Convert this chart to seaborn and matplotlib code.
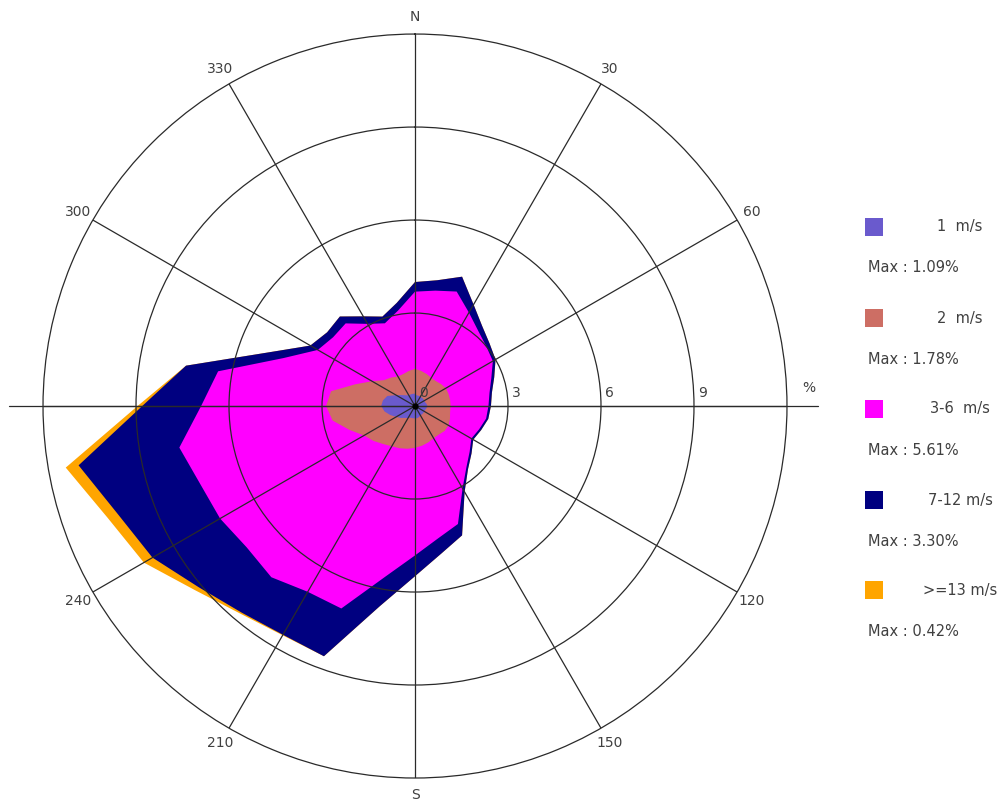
import numpy as np
import matplotlib
matplotlib.use("Agg")
import matplotlib.pyplot as plt
from matplotlib.patches import Rectangle
import seaborn as sns

# Wind directions (degrees, clockwise from north), 10-degree sectors
directions = np.arange(0, 360, 10)

# Frequency (%) of each speed class per direction
speed_1 = [0.40, 0.35, 0.35, 0.35, 0.35, 0.35, 0.35, 0.35, 0.38, 0.40, 0.38, 0.35,
           0.35, 0.35, 0.35, 0.35, 0.38, 0.40, 0.40, 0.40, 0.40, 0.45, 0.50, 0.60,
           0.70, 0.85, 1.00, 1.09, 1.05, 0.95, 0.70, 0.55, 0.45, 0.40, 0.40, 0.40]
speed_2 = [0.80, 0.80, 0.75, 0.70, 0.70, 0.75, 0.80, 0.80, 0.77, 0.75, 0.77, 0.85,
           0.90, 0.90, 0.85, 0.85, 0.87, 0.90, 0.95, 1.00, 1.05, 1.05, 1.10, 1.15,
           1.20, 1.40, 1.70, 1.78, 1.70, 1.10, 0.90, 0.75, 0.75, 0.70, 0.70, 0.75]
speed_3_6 = [2.49, 2.63, 2.83, 2.43, 2.12, 1.90, 1.75, 1.47, 1.29, 1.22, 1.18, 1.00,
             0.85, 1.05, 1.38, 1.87, 2.80, 3.03, 3.47, 4.20, 5.50, 5.42, 5.61, 5.34,
             5.36, 5.12, 5.02, 4.03, 3.70, 2.47, 2.02, 2.15, 2.28, 1.96, 1.74, 1.98]
speed_7_12 = [0.31, 0.34, 0.51, 0.30, 0.20, 0.14, 0.10, 0.10, 0.08, 0.08, 0.07, 0.07,
              0.07, 0.08, 0.08, 0.13, 0.39, 0.51, 0.67, 0.96, 1.64, 1.60, 1.49, 2.01,
              2.52, 2.83, 3.30, 1.90, 1.05, 0.53, 0.28, 0.25, 0.29, 0.28, 0.23, 0.25]
speed_13 = [0.00, 0.00, 0.00, 0.00, 0.00, 0.00, 0.00, 0.00, 0.00, 0.00, 0.00, 0.00,
            0.00, 0.00, 0.00, 0.00, 0.00, 0.00, 0.00, 0.00, 0.00, 0.02, 0.05, 0.15,
            0.32, 0.35, 0.42, 0.15, 0.00, 0.00, 0.00, 0.00, 0.00, 0.00, 0.00, 0.00]

class_names = ["1  m/s", "2  m/s", "3-6  m/s", "7-12 m/s", ">=13 m/s"]
class_colors = ["#6A5ACD", "#CD6E64", "#FF00FF", "#000080", "#FFA500"]

ring_values = [3, 6, 9]
r_max = 12
compass_labels = {0: "N", 30: "30", 60: "60", 120: "120", 150: "150",
                  180: "S", 210: "210", 240: "240", 300: "300", 330: "330"}

sns.set_theme(style="white")
plt.rcParams["font.family"] = ["DejaVu Sans"]
text_color = "#404040"

fig = plt.figure(figsize=(10, 8.01), dpi=100)
ax = fig.add_axes([0.043, 0.0287, 0.744, 0.9288], projection="polar")
ax.set_theta_zero_location("N")
ax.set_theta_direction(-1)
ax.set_ylim(0, r_max)

# Stacked (cumulative) rose: outermost class drawn first
series = [speed_1, speed_2, speed_3_6, speed_7_12, speed_13]
cumulative = np.cumsum(np.array(series), axis=0)
theta = np.deg2rad(np.append(directions, directions[0]))
for level in range(len(series) - 1, -1, -1):
    radii = np.append(cumulative[level], cumulative[level][0])
    ax.fill(theta, radii, color=class_colors[level], lw=0, zorder=1)

# Grid: rings every 3 %, spokes every 30 degrees
ax.set_axisbelow(False)
ax.set_rgrids(ring_values, labels=[])
ax.set_thetagrids(np.arange(0, 360, 30), labels=[])
ax.grid(True, color="#2a2a2a", lw=0.9)
ax.spines["polar"].set_color("#2a2a2a")
ax.spines["polar"].set_linewidth(0.9)
ax.set_facecolor("white")

# East-west axis extends past the outer ring
ax.plot(np.deg2rad([270, 270]), [0, 13.1], color="#2a2a2a", lw=0.9, clip_on=False, zorder=3)
ax.plot(np.deg2rad([90, 90]), [0, 13.0], color="#2a2a2a", lw=0.9, clip_on=False, zorder=3)
ax.plot([0], [0], marker="o", ms=3.5, color="black", zorder=4)

# Compass / bearing labels
for ang, lab in compass_labels.items():
    ax.text(np.deg2rad(ang), r_max + 0.55, lab, ha="center", va="center",
            fontsize=10, color=text_color, clip_on=False)

# Ring value labels along the east axis
for rv in [0] + ring_values:
    ax.annotate(str(rv), xy=(np.deg2rad(90), rv), xytext=(3, 4),
                textcoords="offset points", ha="left", va="bottom",
                fontsize=10, color=text_color)
ax.annotate("%", xy=(np.deg2rad(90), 12.7), xytext=(0, 8),
            textcoords="offset points", ha="center", va="bottom",
            fontsize=10, color=text_color, annotation_clip=False)

# Legend panel with per-class maxima
W, H = 1000.0, 801.0
legend_y = [227, 318, 409, 500, 590]
for name, color, values, yc in zip(class_names, class_colors, series, legend_y):
    fig.add_artist(Rectangle((865 / W, 1 - (yc + 9) / H), 18 / W, 18 / H,
                             transform=fig.transFigure, facecolor=color,
                             edgecolor="none"))
    fig.text(960 / W, 1 - yc / H, name, ha="center", va="center",
             fontsize=10.5, color=text_color)
    fig.text(868 / W, 1 - (yc + 41) / H, f"Max : {max(values):.2f}%",
             ha="left", va="center", fontsize=10.5, color=text_color)

fig.savefig("out.png", dpi=100, facecolor="white")
